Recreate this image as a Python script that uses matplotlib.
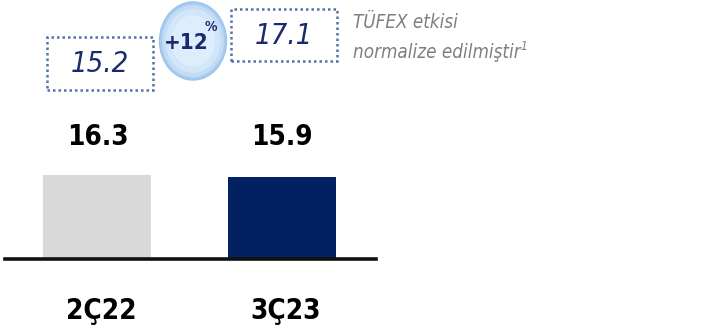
import matplotlib.pyplot as plt
from matplotlib import transforms
from matplotlib.patches import Rectangle, Ellipse

plt.rcParams['font.family'] = ['DejaVu Sans']
plt.rcParams['font.stretch'] = 'condensed'

# Data
periods = ['2Ç22', '3Ç23']
values = [16.3, 15.9]
normalized = [15.2, 17.1]
growth_label = '+12'
note_lines = ['TÜFEX etkisi', 'normalize edilmiştir']

bar_colors = ['#d9d9d9', '#032060']
navy = '#1a2a6c'

W, H = 719, 334
fig = plt.figure(figsize=(W / 100, H / 100), dpi=100)


def fx(px):
    return px / W


def fy(py):
    # pixel measured from the top
    return 1 - py / H


# bar axes: baseline at y=259 px, spanning x 5..376 px
ax = fig.add_axes([fx(5), fy(259), fx(376 - 5), (259 - 175) / H])
ax.bar(range(len(values)), values, width=0.585, color=bar_colors, zorder=2)
ax.set_xlim(-0.501, 1.509)
ax.set_ylim(0, max(values))
ax.axis('off')
ax.axhline(0, color='#111111', lw=2.6, zorder=3, clip_on=False)

blend = transforms.blended_transform_factory(ax.transData, fig.transFigure)
for i, (p, v) in enumerate(zip(periods, values)):
    ax.text(i, fy(137), f'{v:.1f}', transform=blend, ha='center', va='center',
            fontsize=20, fontweight='bold', color='#000000')
    ax.text(i + 0.02, fy(311), p, transform=blend, ha='center', va='center',
            fontsize=20, fontweight='bold', color='#000000')

# dotted boxes with normalized values
boxes = [(47, 37, 153, 90), (231, 9, 337, 61)]
for (x0, y0, x1, y1), val in zip(boxes, normalized):
    r = Rectangle((fx(x0), fy(y1)), fx(x1 - x0), (y1 - y0) / H,
                  transform=fig.transFigure, fill=False,
                  edgecolor='#4f74a8', lw=1.8, linestyle=(0, (1, 1.2)))
    fig.add_artist(r)
    fig.text(fx((x0 + x1) / 2), fy((y0 + y1) / 2 + 1), f'{val:.1f}',
             ha='center', va='center', fontsize=21, style='italic', color=navy)

# growth bubble
for k, (w, col) in enumerate([(67, '#a8cdf0'), (62, '#c2dcf5'), (55, '#d2e6f9'), (44, '#ddedfb')]):
    e = Ellipse((fx(193), fy(41)), fx(w), w * 78 / 67 / H, transform=fig.transFigure,
                facecolor=col, edgecolor='#9cc3ea' if k == 0 else 'none', lw=1)
    fig.add_artist(e)
fig.text(fx(186), fy(43), growth_label, ha='center', va='center',
         fontsize=16, fontweight='bold', color=navy)
fig.text(fx(205), fy(34), '%', ha='left', va='bottom',
         fontsize=10, fontweight='bold', color=navy)

# note on the right
fig.text(fx(353), fy(22), note_lines[0], ha='left', va='center',
         fontsize=13.5, style='italic', color='#7f7f7f')
t2 = fig.text(fx(353), fy(53), note_lines[1], ha='left', va='center',
              fontsize=13.5, style='italic', color='#7f7f7f')
ax.annotate('1', xy=(1, 0.5), xycoords=t2, ha='left', va='bottom',
            fontsize=8.5, style='italic', color='#7f7f7f')

fig.savefig('out.png', dpi=100)
